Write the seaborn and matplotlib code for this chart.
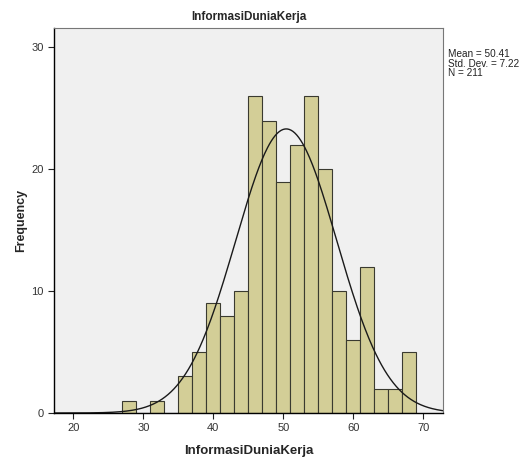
import matplotlib
matplotlib.use("Agg")
import matplotlib.pyplot as plt
import numpy as np
import seaborn as sns

# histogram bins (width 2) and counts
bin_centers = [28, 30, 32, 34, 36, 38, 40, 42, 44, 46, 48, 50, 52, 54, 56, 58, 60, 62, 64, 66, 68]
counts = [1, 0, 1, 0, 3, 5, 9, 8, 10, 26, 24, 19, 22, 26, 20, 10, 6, 12, 2, 2, 5]

mean = 50.41
std = 7.22
n = 211
bin_width = 2

sns.set_style("white")
plt.rcParams['font.family'] = ['Liberation Sans', 'DejaVu Sans']

fig = plt.figure(figsize=(5.26, 4.59), dpi=100)
ax = fig.add_axes([0.1027, 0.1002, 0.7395, 0.8388])
ax.set_facecolor('#F0F0F0')

sns.histplot(x=bin_centers, weights=counts, binwidth=bin_width, binrange=(27, 69),
             color='#D3CE97', edgecolor='#3a3a30', linewidth=0.8, alpha=1, ax=ax)

# fitted normal curve
xs = np.linspace(17.25, 72.8, 400)
ys = n * bin_width * np.exp(-0.5 * ((xs - mean) / std) ** 2) / (std * np.sqrt(2 * np.pi))
sns.lineplot(x=xs, y=ys, color='#1a1a1a', linewidth=1.0, ax=ax)

ax.set_xlim(17.25, 72.8)
ax.set_ylim(0, 31.6)
ax.set_xticks([20, 30, 40, 50, 60, 70])
ax.set_yticks([0, 10, 20, 30])
ax.tick_params(axis='both', direction='out', length=4, width=0.8, colors='#222222',
               labelsize=8, labelcolor='#333333', bottom=True, left=True)

for side in ['left', 'bottom']:
    ax.spines[side].set_color('black')
    ax.spines[side].set_linewidth(1.0)
for side in ['top', 'right']:
    ax.spines[side].set_visible(True)
    ax.spines[side].set_color('#777777')
    ax.spines[side].set_linewidth(0.8)

ax.set_title('InformasiDuniaKerja', fontsize=8.5, fontweight='bold', pad=6)
ax.set_xlabel('InformasiDuniaKerja', fontsize=9.5, fontweight='bold', labelpad=8)
ax.set_ylabel('Frequency', fontsize=9, fontweight='bold', labelpad=3)

fig.text(448 / 526, 1 - 49 / 459,
         f'Mean = {mean:.2f}\nStd. Dev. = {std:.2f}\nN = {n}',
         fontsize=7.2, va='top', ha='left', linespacing=0.95, color='#222222')

fig.savefig('out.png', dpi=100)
